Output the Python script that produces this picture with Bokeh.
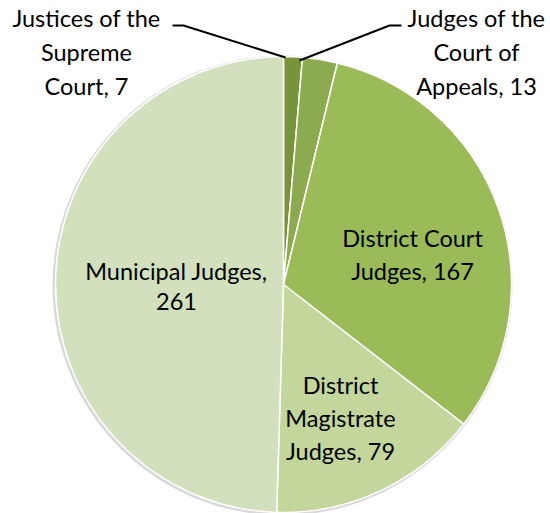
import numpy as np
from bokeh.plotting import figure
from bokeh.models import Range1d, ColumnDataSource
from bokeh.core.properties import value
from bokeh.embed import file_html
from bokeh.resources import INLINE

categories = ["Justices of the Supreme Court", "Judges of the Court of Appeals",
              "District Court Judges", "District Magistrate Judges", "Municipal Judges"]
counts = [7, 13, 167, 79, 261]
colors = ["#77933C", "#8CAA50", "#9BBB59", "#C3D69B", "#D2E0BE"]
label_lines = [["Justices of the", "Supreme", "Court, 7"],
               ["Judges of the", "Court of", "Appeals, 13"],
               ["District Court", "Judges, 167"],
               ["District", "Magistrate", "Judges, 79"],
               ["Municipal Judges,", "261"]]

W, H = 550, 513
cx, cy, R = 283, 513 - 284, 228

total = sum(counts)
cum = np.cumsum([0] + counts)
start = np.pi / 2 - cum[:-1] / total * 2 * np.pi
end = np.pi / 2 - cum[1:] / total * 2 * np.pi

p = figure(width=W, height=H, x_range=Range1d(0, W), y_range=Range1d(0, H),
           output_backend="svg", toolbar_location=None, min_border=0)
p.axis.visible = False
p.grid.visible = False
p.outline_line_color = None
p.background_fill_color = "white"

# soft shadow
p.circle(x=[cx - 1], y=[cy - 1], radius=R + 2, fill_color="#d9d9d9", line_color=None)

src = ColumnDataSource(dict(start=start, end=end, color=colors, cat=categories, n=counts))
p.wedge(x=cx, y=cy, radius=R, start_angle="start", end_angle="end", direction="clock",
        fill_color="color", line_color="white", line_width=1.5, source=src)

# label anchors (pixel layout, top-down)
anchors = [(86, 17), (476, 17), (412, 237), (340, 384), (176, 270)]
spacing = [34, 34, 33, 33, 31]
xs, ys, ts = [], [], []
for (ax, ay), lines, sp in zip(anchors, label_lines, spacing):
    for i, t in enumerate(lines):
        xs.append(ax)
        ys.append(H - (ay + i * sp))
        ts.append(t)
p.text(x=xs, y=ys, text=ts, text_align="center", text_baseline="middle",
       text_font=value("Lato"), text_font_size="23.5px", text_color="black")

# leader lines
p.line(x=[172, 183, 285], y=[H - 25, H - 25, H - 57], line_color="black", line_width=2)
p.line(x=[401, 389, 299], y=[H - 25, H - 25, H - 60], line_color="black", line_width=2)

open("out.html", "w").write(file_html(p, INLINE))
